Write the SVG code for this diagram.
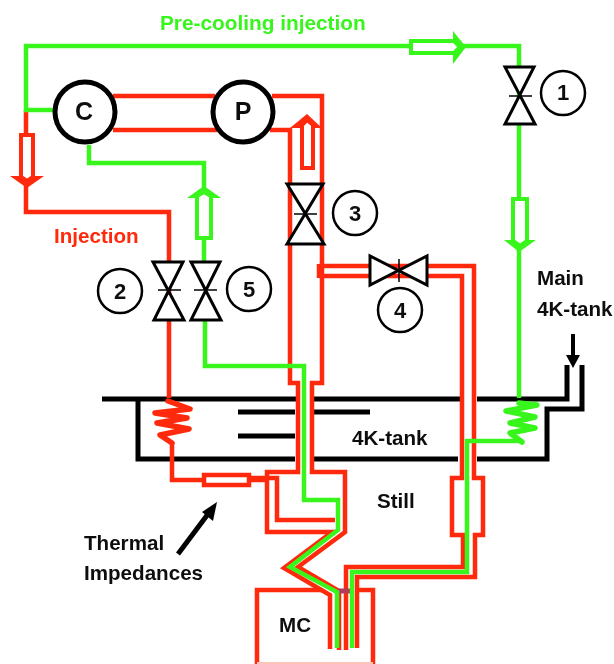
<svg xmlns="http://www.w3.org/2000/svg" width="614" height="664" viewBox="0 0 614 664">
<style>
.r{fill:none;stroke:#ff2a0a;stroke-width:4.5;stroke-linejoin:miter}
.g{fill:none;stroke:#38f51e;stroke-width:4.5;stroke-linejoin:miter}
.coil{stroke-width:5.5;stroke-linejoin:round;stroke-linecap:round}
.k{fill:none;stroke:#000;stroke-width:5}
.ra{fill:#fff;stroke:#ff2a0a;stroke-width:4}
.ga{fill:#fff;stroke:#38f51e;stroke-width:4}
.rh{fill:#ff2a0a}
.gh{fill:#38f51e}
.v{fill:#fff;stroke:#000;stroke-width:3;stroke-linejoin:miter}
.b{fill:none;stroke:#000;stroke-width:1.5}
.c{fill:#fff;stroke:#000;stroke-width:5}
.n{fill:#fff;stroke:#000;stroke-width:2.5}
text{font-family:"Liberation Sans",Arial,sans-serif;font-weight:bold;fill:#111}
.t{font-size:20.6px}
.big{font-size:25px;text-anchor:middle}
.num{font-size:22px;text-anchor:middle}
</style>
<defs><filter id="soft" x="0" y="0" width="100%" height="100%"><feGaussianBlur stdDeviation="0.45"/></filter></defs>
<rect width="614" height="664" fill="#fff"/>
<g filter="url(#soft)">
<g id="tank">
<path class="k" d="M102 399H298M313 399H462M477 399H567V365M582 365V409H547V459H477M458 459H313M295 459H138V399"/>
<path class="k" d="M238 412H295M313 412H370M238 436H295"/>
</g>
<g id="connectors">
<path class="r" d="M113 96H215M272 96H322V383H312V472H345V532L298 567L339 591V650"/>
<path class="r" d="M113 130H217M270 130H290V383H298V472H267V532H332L284 568L330 595V649"/>
<path class="r" d="M26 110V212H169V398"/>
<path class="r" d="M172 443V480H203M249 480H267M249 478H277V520H335"/>
<path class="r coil" d="M168 401L190 409L155 413L187 418L157 423L189 429L160 435L172 443"/>
<path class="r" d="M319 266H474V478H483V535H475V577H357V648M319 276H462V478H452V535H463V567H346V650M319 264V278"/>
<path class="r" d="M257 664V590H322M357 590H373V664"/>
<path fill="none" stroke="#ffc4b8" stroke-width="2" d="M257 663H373"/>
<rect class="r" x="204" y="475" width="45" height="10"/>
<path fill="none" stroke="#b23a5c" stroke-width="5" d="M338 591H350"/>
<path class="g" d="M55 110H26V46H519V398"/>
<path class="g" d="M89 145V163H204V262M205 320V366H304V500H338V530L290 567L337 592V648"/>
<path class="g coil" d="M519 403L537 405L506 411L535 417L510 423L535 428L510 433L522 442"/>
<path class="g" d="M522 441H467V572H352V648"/>
<path class="rh" d="M10 176H44L27 188Z"/><path class="ra" d="M21 135H33V177L27 181L21 177Z"/>
<path class="rh" d="M290 128H322L307 114Z"/><path class="ra" d="M302 168V125L307 120L313 125V168Z"/>
<path class="gh" d="M187 198H221L204 186Z"/><path class="ga" d="M197 238V196L204 192L211 196V238Z"/>
<path class="gh" d="M504 240H536L519 252Z"/><path class="ga" d="M513 199H527V241L520 246L513 241Z"/>
<path class="gh" d="M453 31V64L466 47Z"/><path class="ga" d="M411 41H454L460 47L454 53H411Z"/>
</g>
<g id="arrows">
<path stroke="#000" stroke-width="5" fill="none" d="M178 554L208 514"/>
<path fill="#000" d="M217 502L213 521L202 512Z"/>
<path stroke="#000" stroke-width="4" fill="none" d="M573 334V358"/>
<path fill="#000" d="M566 355H580L573 368Z"/>
</g>
<g id="node-C"><circle class="c" cx="85" cy="112" r="30"/><text class="big" x="84" y="120">C</text></g>
<g id="node-P"><circle class="c" cx="243" cy="112" r="30"/><text class="big" x="243" y="120">P</text></g>
<g id="valve-1"><path class="v" d="M505 67H534L505 124H535Z"/><path class="b" d="M509 96H532"/><circle class="n" cx="563" cy="93" r="22"/><text class="num" x="563" y="100">1</text></g>
<g id="valve-2"><path class="v" d="M153 262H183L154 320H184Z"/><path class="b" d="M158 290H181"/><circle class="n" cx="120" cy="291" r="22"/><text class="num" x="120" y="299">2</text></g>
<g id="valve-5"><path class="v" d="M191 262H220L191 320H221Z"/><path class="b" d="M194 290H217"/><circle class="n" cx="249" cy="289" r="22"/><text class="num" x="249" y="297">5</text></g>
<g id="valve-3"><path class="v" d="M287 184H323L287 244H324Z"/><path class="b" d="M294 214H317"/><circle class="n" cx="355" cy="213" r="22"/><text class="num" x="355" y="221">3</text></g>
<g id="valve-4"><path class="v" d="M370 256V285L427 256V285Z"/><path class="b" d="M399 259V282"/><circle class="n" cx="400" cy="310" r="22"/><text class="num" x="400" y="318">4</text></g>
<g id="labels">
<text x="160" y="30" font-size="20.8" style="fill:#38f51e">Pre-cooling injection</text>
<text x="54" y="243" font-size="20.6" style="fill:#ff2a0a">Injection</text>
<text class="t" x="537" y="285">Main</text>
<text class="t" x="537" y="316">4K-tank</text>
<text class="t" x="352" y="445">4K-tank</text>
<text class="t" x="377" y="508">Still</text>
<text class="t" x="84" y="550">Thermal</text>
<text class="t" x="84" y="580">Impedances</text>
<text class="t" x="279" y="632">MC</text>
</g>
</g>
</svg>
